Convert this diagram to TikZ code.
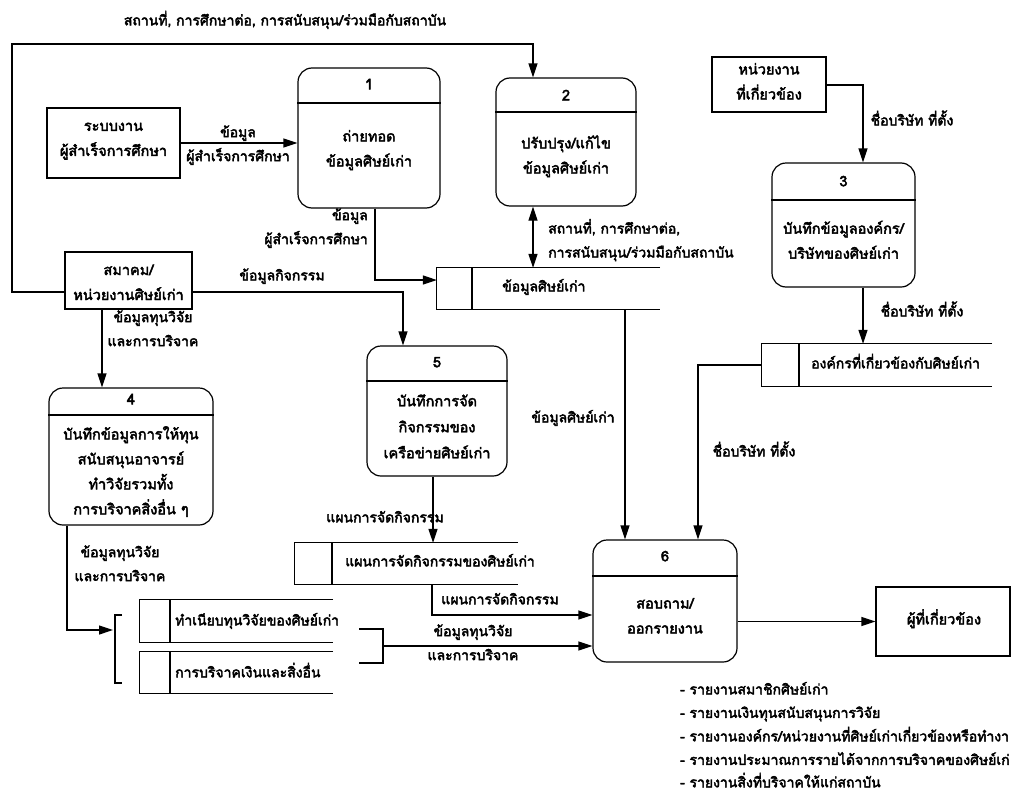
\documentclass[tikz,border=0pt]{standalone}
\usepackage{fontspec}
\newfontfamily\thaifont[Script=Thai, FakeBold=3]{Loma}
\usetikzlibrary{arrows.meta,fit}
\newcommand\tstrut{\rule[-9.4pt]{0pt}{25.4pt}}
\tikzset{
  base/.style={line width=1.2pt},
  arr/.style={base, -{Triangle[length=14pt,width=9pt]}},
  arrtwo/.style={base, {Triangle[length=14pt,width=9pt]}-{Triangle[length=14pt,width=9pt]}},
  extbox/.style={draw, base, inner sep=0pt},
  procbox/.style={draw, base, rounded corners=14pt, inner sep=0pt},
  holder/.style={inner sep=0pt},
  txt/.style={inner sep=0pt, execute at begin node=\tstrut, execute at end node=\tstrut},
  lbl/.style={txt, font=\thaifont\fontsize{14}{24}\selectfont, align=center},
  ptxt/.style={txt, font=\thaifont\fontsize{14.5}{25}\selectfont, align=center},
  stxt/.style={txt, font=\thaifont\fontsize{14}{24}\selectfont, anchor=west},
  lst/.style={txt, font=\thaifont\fontsize{14}{24}\selectfont, anchor=west},
}
\begin{document}
\begin{tikzpicture}[x=1pt,y=-1pt]
\useasboundingbox (0,0) rectangle (1012,795);
% ---------- external entities ----------
\node[extbox, fit={(47,108)(180,178)}] (ext1) {};
\node[ptxt] (ext1t) at (113.5,144) {ระบบงาน\\ผู้สำเร็จการศึกษา};
\node[extbox, fit={(65,252)(192,309)}] (ext2) {};
\node[ptxt] (ext2t) at (128.5,287) {สมาคม/\\หน่วยงานศิษย์เก่า};
\node[extbox, fit={(712,57)(826,112)}] (ext3) {};
\node[ptxt] (ext3t) at (769,86) {หน่วยงาน\\ที่เกี่ยวข้อง};
\node[extbox, fit={(876,587)(1010,656)}] (ext4) {};
\node[ptxt] (ext4t) at (944,621) {ผู้ที่เกี่ยวข้อง};
% ---------- processes ----------
\node[procbox, fit={(298,68)(440,208)}] (p1) {};
\draw[base] (p1.west |- 0,103) -- (p1.east |- 0,103);
\node[ptxt] (p1n) at (369,86) {1};
\node[ptxt] (p1t) at (369,153) {ถ่ายทอด\\ข้อมูลศิษย์เก่า};

\node[procbox, fit={(496,78)(636,206)}] (p2) {};
\draw[base] (p2.west |- 0,112) -- (p2.east |- 0,112);
\node[ptxt] (p2n) at (566,97) {2};
\node[ptxt] (p2t) at (566,159) {ปรับปรุง/แก้ไข\\ข้อมูลศิษย์เก่า};

\node[procbox, fit={(772,163)(915,287)}] (p3) {};
\draw[base] (p3.west |- 0,200) -- (p3.east |- 0,200);
\node[ptxt] (p3n) at (843.5,183) {3};
\node[ptxt] (p3t) at (843.5,244.5) {บันทึกข้อมูลองค์กร/\\บริษัทของศิษย์เก่า};

\node[procbox, fit={(49,388)(213,525)}] (p4) {};
\draw[base] (p4.west |- 0,415) -- (p4.east |- 0,415);
\node[ptxt] (p4n) at (131,401) {4};
\node[ptxt] (p4t) at (131,475) {บันทึกข้อมูลการให้ทุน\\สนับสนุนอาจารย์\\ทำวิจัยรวมทั้ง\\การบริจาคสิ่งอื่น ๆ};

\node[procbox, fit={(367,346)(507,476)}] (p5) {};
\draw[base] (p5.west |- 0,381) -- (p5.east |- 0,381);
\node[ptxt] (p5n) at (437,364) {5};
\node[ptxt, font=\thaifont\fontsize{14.5}{26}\selectfont] (p5t) at (437,431) {บันทึกการจัด\\กิจกรรมของ\\เครือข่ายศิษย์เก่า};

\node[procbox, fit={(593,540)(737,662)}] (p6) {};
\draw[base] (p6.west |- 0,576) -- (p6.east |- 0,576);
\node[ptxt] (p6n) at (665,558) {6};
\node[ptxt] (p6t) at (665,620.5) {สอบถาม/\\ออกรายงาน};
% ---------- data stores ----------
\newcommand\dstore[6]{%
  \node[holder, fit={(#2,#3)(#4,#5)}] (#1) {};
  \draw[base] (#1.north east) -- (#1.north west) -- (#1.south west) -- (#1.south east);
  \draw[base] (#6,#3) -- (#6,#5);
}
\dstore{s1}{437}{268}{660}{309}{472}
\node[stxt] (s1t) at (502,288) {ข้อมูลศิษย์เก่า};
\dstore{s3}{762}{344}{992}{386}{799}
\node[stxt] (s3t) at (811,365) {องค์กรที่เกี่ยวข้องกับศิษย์เก่า};
\dstore{s4}{295}{543}{518}{584}{332}
\node[stxt] (s4t) at (345,563) {แผนการจัดกิจกรรมของศิษย์เก่า};
\dstore{s5}{140}{600}{333}{642}{170}
\node[stxt] (s5t) at (175,622) {ทำเนียบทุนวิจัยของศิษย์เก่า};
\dstore{s6}{140}{652}{333}{693}{170}
\node[stxt] (s6t) at (175,674) {การบริจาคเงินและสิ่งอื่น};
% brackets grouping the two stores
\draw[base] (122,615) -- (115,615) -- (115,683) -- (122,683);
\coordinate (brL) at (113,630);
\draw[base] (359,629) -- (383,629) -- (383,663) -- (359,663);
\coordinate (brR) at (383,646);
% ---------- bend points ----------
\coordinate (c1) at (533,44);
\coordinate (c0) at (12,44);
\coordinate (c0b) at (12,292);
\coordinate (b1) at (375,280);
\coordinate (b3) at (863,85);
\coordinate (b6) at (698,365);
\coordinate (b7) at (625,0);
\coordinate (b5) at (403,292);
\coordinate (b4) at (102,0);
\coordinate (b8) at (433,0);
\coordinate (b9) at (432,615);
\coordinate (b10) at (67,630);
% ---------- flows ----------
\draw[arr] (ext2.west |- c0b) -- (c0b) -- (c0) -- (c1) -- (p2.north -| c1);
\draw[arr] (ext1.east) -- (p1.west |- ext1.east);
\draw[arr] (p1.south -| b1) -- (b1) -- (s1.west |- b1);
\draw[arrtwo] (p2.south -| c1) -- (s1.north -| c1);
\draw[arr] (ext3.east |- b3) -- (b3) -- (p3.north -| b3);
\draw[arr] (p3.south -| b3) -- (s3.north -| b3);
\draw[arr] (s3.west |- b6) -- (b6) -- (p6.north -| b6);
\draw[arr] (s1.south -| b7) -- (p6.north -| b7);
\draw[arr] (ext2.east |- b5) -- (b5) -- (p5.north -| b5);
\draw[arr] (ext2.south -| b4) -- (p4.north -| b4);
\draw[arr] (p5.south -| b8) -- (s4.north -| b8);
\draw[arr] (s4.south -| b9) -- (b9) -- (p6.west |- b9);
\draw[arr] (p4.south -| b10) -- (b10) -- (brL);
\draw[arr] (brR) -- (p6.west |- brR);
\draw[arr] (p6.east |- ext4.west) -- (ext4.west);
% ---------- flow labels ----------
\node[lbl] (l1) at (285,22) {สถานที่, การศึกษาต่อ, การสนับสนุน/ร่วมมือกับสถาบัน};
\node[lbl] (l2) at (238,148) {ข้อมูล\\ผู้สำเร็จการศึกษา};
\node[lbl, align=right, anchor=east] (l3) at (368,231) {ข้อมูล\\ผู้สำเร็จการศึกษา};
\node[lbl, align=left, anchor=west] (l4) at (548,243) {สถานที่, การศึกษาต่อ,\\การสนับสนุน/ร่วมมือกับสถาบัน};
\node[lbl] (l5) at (282,277) {ข้อมูลกิจกรรม};
\node[lbl] (l6) at (153,333) {ข้อมูลทุนวิจัย\\และการบริจาค};
\node[lbl] (l7) at (912,122) {ชื่อบริษัท ที่ตั้ง};
\node[lbl] (l8) at (922,313) {ชื่อบริษัท ที่ตั้ง};
\node[lbl] (l9) at (754,453) {ชื่อบริษัท ที่ตั้ง};
\node[lbl] (l10) at (573,419) {ข้อมูลศิษย์เก่า};
\node[lbl] (l11) at (385,519) {แผนการจัดกิจกรรม};
\node[lbl] (l12) at (120,568) {ข้อมูลทุนวิจัย\\และการบริจาค};
\node[lbl] (l13) at (500,601) {แผนการจัดกิจกรรม};
\node[lbl] (l14) at (473,647) {ข้อมูลทุนวิจัย\\และการบริจาค};
% ---------- report list ----------
\node[lst] (r1) at (680,691) {- รายงานสมาชิกศิษย์เก่า};
\node[lst] (r2) at (680,714.5) {- รายงานเงินทุนสนับสนุนการวิจัย};
\node[lst] (r3) at (680,738) {- รายงานองค์กร/หน่วยงานที่ศิษย์เก่าเกี่ยวข้องหรือทำงา};
\node[lst] (r4) at (680,761.5) {- รายงานประมาณการรายได้จากการบริจาคของศิษย์เก่};
\node[lst] (r5) at (680,784) {- รายงานสิ่งที่บริจาคให้แก่สถาบัน};
\end{tikzpicture}
\end{document}
